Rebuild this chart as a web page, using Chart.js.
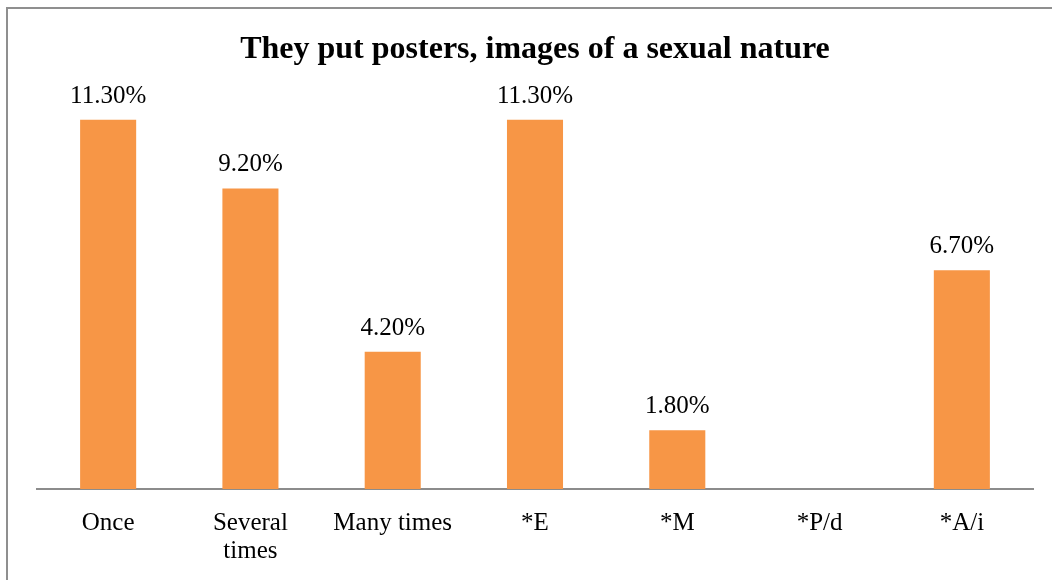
<!DOCTYPE html>
<html>
<head>
<meta charset="utf-8">
<script src="https://cdn.jsdelivr.net/npm/chart.js@4/dist/chart.umd.min.js"></script>
<style>
html,body{margin:0;padding:0;background:#fff;overflow:hidden;}
#wrap{position:relative;width:1052px;height:580px;}
#frame{position:absolute;left:6px;top:7px;width:1100px;height:620px;border:2px solid #8f8f8f;box-sizing:border-box;}
canvas{position:absolute;left:0;top:0;}
</style>
</head>
<body>
<div id="wrap">
<div id="frame"></div>
<canvas id="c" width="1052" height="580"></canvas>
</div>
<script>
const categories = ['Once', ['Several', 'times'], 'Many times', '*E', '*M', '*P/d', '*A/i'];
const values = [11.3, 9.2, 4.2, 11.3, 1.8, null, 6.7];
const titleText = 'They put posters, images of a sexual nature';

const FONT = "'Liberation Serif', 'Times New Roman', serif";

const valueLabels = {
  id: 'valueLabels',
  afterDatasetsDraw(chart) {
    const ctx = chart.ctx;
    const meta = chart.getDatasetMeta(0);
    ctx.save();
    ctx.font = '25px ' + FONT;
    ctx.fillStyle = '#000';
    ctx.textAlign = 'center';
    ctx.textBaseline = 'alphabetic';
    meta.data.forEach((bar, i) => {
      const v = chart.data.datasets[0].data[i];
      if (v === null || v === undefined) return;
      ctx.fillText(v.toFixed(2) + '%', bar.x, bar.y - 17);
    });
    ctx.restore();
  }
};

new Chart(document.getElementById('c'), {
  type: 'bar',
  data: {
    labels: categories,
    datasets: [{
      data: values,
      backgroundColor: '#F79646',
      borderWidth: 0,
      categoryPercentage: 1,
      barPercentage: 0.394
    }]
  },
  options: {
    responsive: false,
    animation: false,
    events: [],
    layout: { padding: { left: 37, right: 19, top: 0, bottom: 0 } },
    plugins: {
      legend: { display: false },
      tooltip: { enabled: false },
      title: {
        display: true,
        text: titleText,
        color: '#000',
        font: { family: FONT, size: 32, weight: 'bold', lineHeight: 1.2 },
        padding: { top: 30.5, bottom: 28.1 }
      }
    },
    scales: {
      x: {
        grid: { display: false, drawTicks: false },
        border: { display: true, color: '#8c8c8c', width: 2 },
        ticks: {
          color: '#000',
          font: { family: FONT, size: 25, lineHeight: 1.12 },
          padding: 20,
          maxRotation: 0,
          autoSkip: false
        },
        afterFit(s) { s.height = 91; }
      },
      y: {
        display: false,
        min: 0,
        max: 12
      }
    }
  },
  plugins: [valueLabels]
});
</script>
</body>
</html>
